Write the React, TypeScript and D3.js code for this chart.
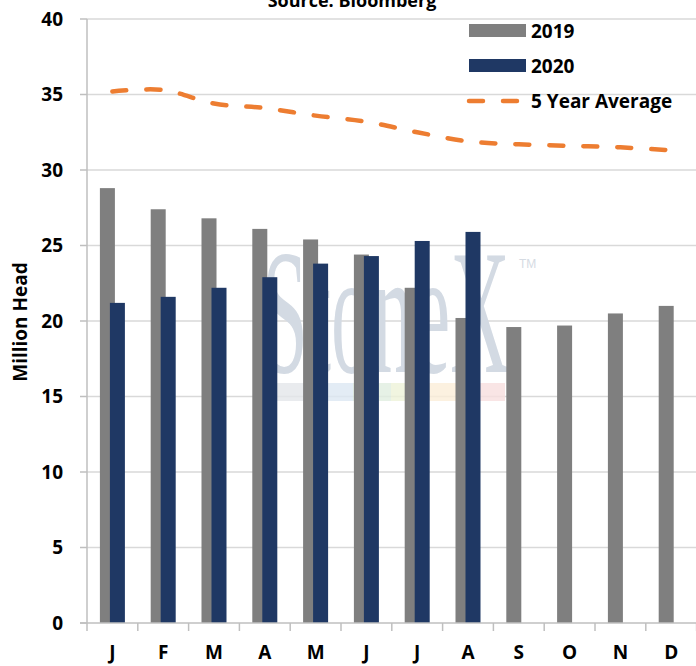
import React, { useRef, useEffect } from 'react';
import * as d3 from 'd3';

const months = ['J', 'F', 'M', 'A', 'M', 'J', 'J', 'A', 'S', 'O', 'N', 'D'];
const values2019 = [28.8, 27.4, 26.8, 26.1, 25.4, 24.4, 22.2, 20.2, 19.6, 19.7, 20.5, 21.0];
const values2020 = [21.2, 21.6, 22.2, 22.9, 23.8, 24.3, 25.3, 25.9];
const fiveYearAvg = [35.2, 35.3, 34.4, 34.1, 33.6, 33.2, 32.5, 31.9, 31.7, 31.6, 31.5, 31.3];
const yTicks = [0, 5, 10, 15, 20, 25, 30, 35, 40];

const width = 696;
const height = 666;
const margin = { top: 19, right: 0, bottom: 43, left: 87 };
const font = '"Open Sans", Lato, "DejaVu Sans", sans-serif';

const App: React.FC = () => {
  const svgRef = useRef<SVGSVGElement>(null);

  useEffect(() => {
    if (!svgRef.current) return;
    const svg = d3.select(svgRef.current);
    svg.selectAll('*').remove();

    const idx = months.map((_, i) => i);
    const x = d3.scaleBand<number>()
      .domain(idx)
      .range([margin.left, margin.left + 12 * 50.8]);
    const y = d3.scaleLinear()
      .domain([0, 40])
      .range([height - margin.bottom, margin.top]);

    const bw = x.bandwidth();
    const barW = 15;

    // gridlines
    svg.append('g')
      .selectAll('line')
      .data(yTicks.filter(t => t > 0))
      .join('line')
      .attr('x1', margin.left)
      .attr('x2', width)
      .attr('y1', d => y(d))
      .attr('y2', d => y(d))
      .attr('stroke', '#d9d9d9')
      .attr('stroke-width', 1.5);

    // watermark
    const wm = svg.append('g');
    wm.append('text')
      .attr('x', 262)
      .attr('y', 372)
      .attr('font-family', '"Liberation Serif", "DejaVu Serif", serif')
      .attr('font-size', 178)
      .attr('fill', '#d3dae3')
      .attr('textLength', 248)
      .attr('lengthAdjust', 'spacingAndGlyphs')
      .text('StoneX');
    wm.append('text')
      .attr('x', 519)
      .attr('y', 268)
      .attr('font-family', '"Liberation Sans", sans-serif')
      .attr('font-size', 12)
      .attr('fill', '#d5dbe3')
      .text('TM');
    const strip = ['#e3e6ea', '#dce7f2', '#e0eee0', '#eef2d8', '#fbeed8', '#f7dede'];
    strip.forEach((c, i) => {
      wm.append('rect')
        .attr('x', 277 + i * 38)
        .attr('y', 383)
        .attr('width', 38)
        .attr('height', 18)
        .attr('fill', c)
        .attr('opacity', 0.8);
    });

    // 2019 bars
    svg.append('g')
      .selectAll('rect')
      .data(values2019)
      .join('rect')
      .attr('x', (_, i) => (x(i) || 0) + bw / 2 - 12.5)
      .attr('y', d => y(d))
      .attr('width', barW)
      .attr('height', d => y(0) - y(d))
      .attr('fill', '#7f7f7f');

    // 2020 bars
    svg.append('g')
      .selectAll('rect')
      .data(values2020)
      .join('rect')
      .attr('x', (_, i) => (x(i) || 0) + bw / 2 - 2.5)
      .attr('y', d => y(d))
      .attr('width', barW)
      .attr('height', d => y(0) - y(d))
      .attr('fill', '#1f3864');

    // 5 year average
    const line = d3.line<number>()
      .x((_, i) => (x(i) || 0) + bw / 2)
      .y(d => y(d))
      .curve(d3.curveCatmullRom.alpha(0.5));
    svg.append('path')
      .datum(fiveYearAvg)
      .attr('d', line)
      .attr('fill', 'none')
      .attr('stroke', '#ed7d31')
      .attr('stroke-width', 4.5)
      .attr('stroke-linecap', 'round')
      .attr('stroke-dasharray', '14,20');

    // axes
    const axes = svg.append('g').attr('stroke', '#bfbfbf').attr('stroke-width', 1.5);
    axes.append('line')
      .attr('x1', margin.left).attr('x2', margin.left)
      .attr('y1', y(40)).attr('y2', y(0));
    axes.append('line')
      .attr('x1', margin.left - 7).attr('x2', width)
      .attr('y1', y(0)).attr('y2', y(0));
    axes.selectAll('.yt')
      .data(yTicks)
      .join('line')
      .attr('class', 'yt')
      .attr('x1', margin.left - 7).attr('x2', margin.left)
      .attr('y1', d => y(d)).attr('y2', d => y(d));
    axes.selectAll('.xt')
      .data(d3.range(13))
      .join('line')
      .attr('class', 'xt')
      .attr('x1', i => margin.left + i * bw)
      .attr('x2', i => margin.left + i * bw)
      .attr('y1', y(0)).attr('y2', y(0) + 8);

    // y tick labels
    svg.append('g')
      .selectAll('text')
      .data(yTicks)
      .join('text')
      .attr('x', 63)
      .attr('y', d => y(d))
      .attr('dy', '0.36em')
      .attr('text-anchor', 'end')
      .attr('font-family', font)
      .attr('font-weight', 'bold')
      .attr('font-size', 19)
      .attr('fill', '#000')
      .text(d => d);

    // x labels
    svg.append('g')
      .selectAll('text')
      .data(months)
      .join('text')
      .attr('x', (_, i) => (x(i) || 0) + bw / 2)
      .attr('y', 659)
      .attr('text-anchor', 'middle')
      .attr('font-family', font)
      .attr('font-weight', 'bold')
      .attr('font-size', 19)
      .attr('fill', '#000')
      .text(d => d);

    // y title
    svg.append('text')
      .attr('transform', 'translate(27,322) rotate(-90)')
      .attr('text-anchor', 'middle')
      .attr('font-family', font)
      .attr('font-weight', 'bold')
      .attr('font-size', 19)
      .attr('fill', '#000')
      .text('Million Head');

    // title
    svg.append('text')
      .attr('x', 352)
      .attr('y', 7)
      .attr('text-anchor', 'middle')
      .attr('font-family', font)
      .attr('font-weight', 'bold')
      .attr('font-size', 18)
      .attr('fill', '#000')
      .text('Source: Bloomberg');

    // legend
    const lg = svg.append('g').attr('font-family', font).attr('font-weight', 'bold').attr('font-size', 19);
    lg.append('rect').attr('x', 469).attr('y', 24).attr('width', 57).attr('height', 13).attr('fill', '#7f7f7f');
    lg.append('text').attr('x', 531).attr('y', 31).attr('dy', '0.36em').text('2019');
    lg.append('rect').attr('x', 469).attr('y', 59).attr('width', 57).attr('height', 13).attr('fill', '#1f3864');
    lg.append('text').attr('x', 531).attr('y', 66).attr('dy', '0.36em').text('2020');
    lg.append('line')
      .attr('x1', 469).attr('x2', 519).attr('y1', 101).attr('y2', 101)
      .attr('stroke', '#ed7d31').attr('stroke-width', 4.5)
      .attr('stroke-linecap', 'round').attr('stroke-dasharray', '14,20');
    lg.append('text').attr('x', 531).attr('y', 101).attr('dy', '0.36em').text('5 Year Average');
  }, []);

  return (
    <div style={{ position: 'absolute', left: 0, top: 0 }}>
      <svg ref={svgRef} width={width} height={height} style={{ display: 'block', background: '#fff' }}></svg>
    </div>
  );
};

export default App;
